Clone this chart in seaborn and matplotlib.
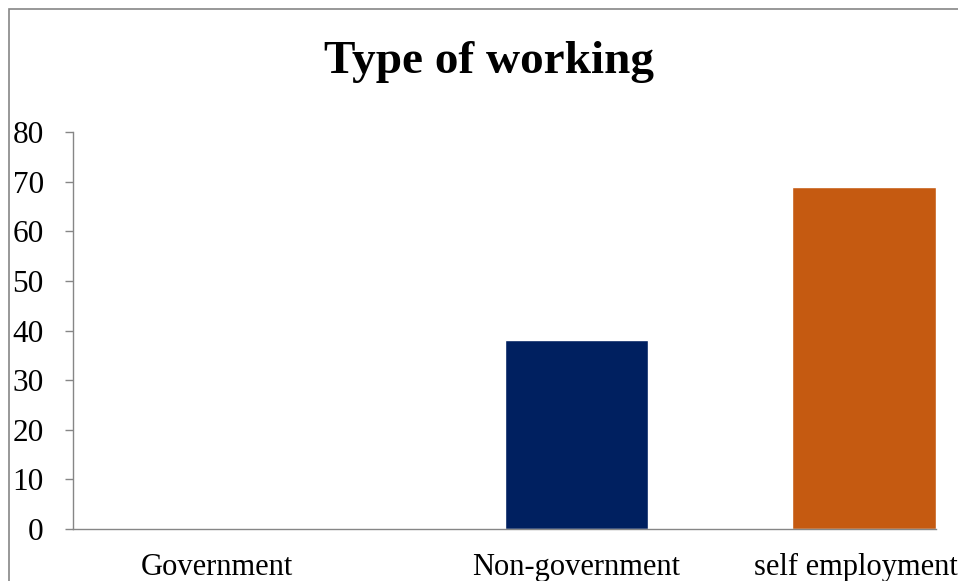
import pandas as pd
import seaborn as sns
import matplotlib.pyplot as plt
from matplotlib.patches import Rectangle

# data
categories = ['Government', 'Non-government', 'self employment']
counts = [0, 38, 69]
bar_colors = ['#4472C4', '#002060', '#C55A11']

df = pd.DataFrame({'Type': categories, 'Count': counts})

sns.set_style('white')
plt.rcParams['font.family'] = ['Liberation Serif', 'DejaVu Serif']

fig = plt.figure(figsize=(9.58, 5.81), dpi=100)
ax = fig.add_axes([73 / 958, 1 - 529 / 581, (936 - 73) / 958, (529 - 132) / 581])

sns.barplot(data=df, x='Type', y='Count', hue='Type', palette=bar_colors,
            legend=False, width=0.5, saturation=1, ax=ax)

ax.set_xlim(-0.75, 2.25)
ax.set_ylim(0, 80)
ax.set_yticks(range(0, 81, 10))
# label slots as in the original (first one sits left, last one kept inside)
ax.set_xticks([-0.25, 1, 1.97], categories)
ax.set_xlabel('')
ax.set_ylabel('')
for s in ['top', 'right']:
    ax.spines[s].set_visible(False)
for s in ['left', 'bottom']:
    ax.spines[s].set_color('#868686')
    ax.spines[s].set_linewidth(1)
ax.tick_params(axis='y', length=6, width=1, color='#868686', labelsize=22.5,
               labelcolor='black', pad=15, left=True)
ax.tick_params(axis='x', length=0, labelsize=22, labelcolor='black', pad=17)

fig.text(489 / 958, 1 - 73 / 581, 'Type of working', ha='center', va='baseline',
         fontsize=34, fontweight='bold', color='black')

# chart area border (cropped at right and bottom)
fig.patches.append(Rectangle((9 / 958, -0.1), 1.2, 1 - 9 / 581 + 0.1,
                             transform=fig.transFigure, fill=False,
                             edgecolor='#868686', linewidth=1.2))

fig.savefig('out.png', dpi=100)
